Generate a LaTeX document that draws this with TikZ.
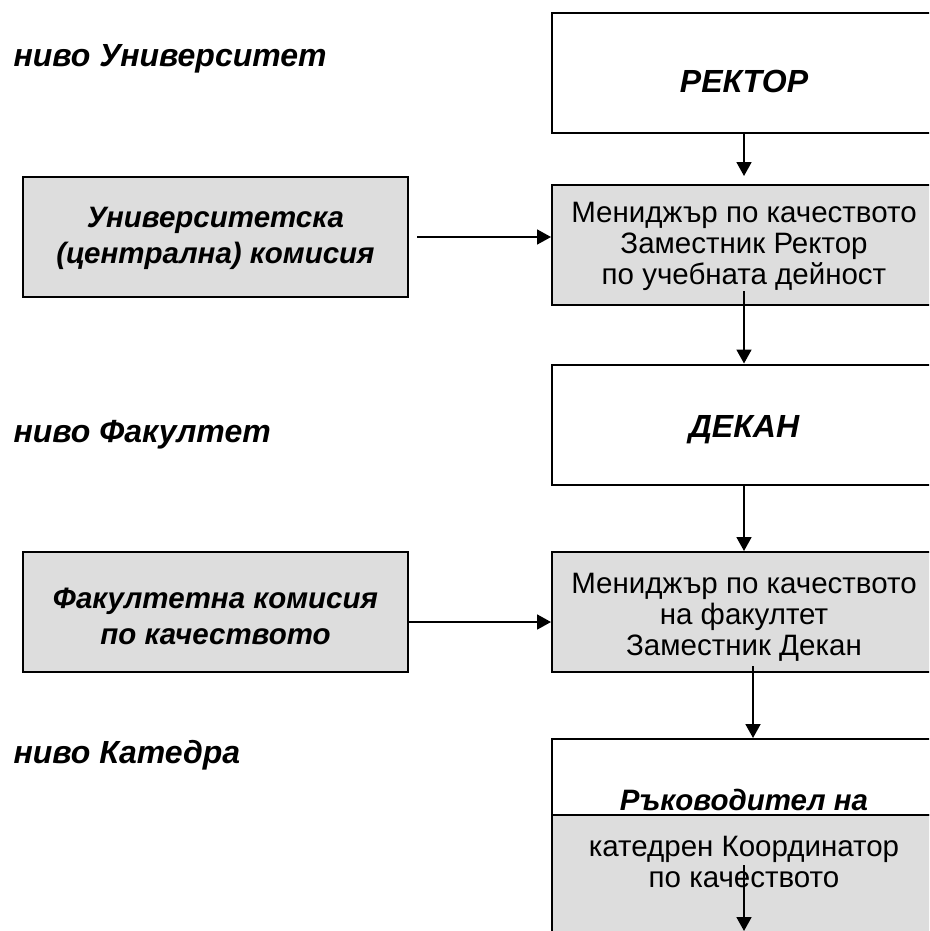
\documentclass[tikz,border=0pt]{standalone}
\usepackage{fontspec}
\setmainfont{Liberation Sans}
\usepackage{tikz}
\usetikzlibrary{positioning, arrows.meta, calc}
\definecolor{boxgray}{RGB}{221,221,221}

\begin{document}
\begin{tikzpicture}[x=1pt, y=-1pt,
  lvl/.style={anchor=base west, font=\fontsize{32}{38}\selectfont\bfseries\itshape},
  whitebox/.style={draw, line width=2pt, fill=white, minimum width=384pt, minimum height=120pt, inner sep=0pt},
  graybox/.style={whitebox, fill=boxgray},
  leftbox/.style={graybox, minimum width=385pt},
  txt/.style={align=center, inner sep=0pt, font=\fontsize{29.5}{31}\selectfont},
  btxt/.style={align=center, inner sep=0pt, font=\fontsize{32}{38}\selectfont\bfseries\itshape},
  ctxt/.style={align=center, inner sep=0pt, font=\fontsize{29.5}{36}\selectfont\bfseries\itshape},
  arr/.style={-{Triangle[length=14pt, width=15pt]}, line width=1.8pt}]
\useasboundingbox (0,0) rectangle (929,931);
\clip (0,0) rectangle (929,931);

% levels
\node[lvl] (lvluni) at (10,67) {ниво Университет};
\node[lvl] (lvlfak) at (10,442) {ниво Факултет};
\node[lvl] (lvlkat) at (10,763) {ниво Катедра};

% university
\node[whitebox] (rektor) at (744,73) {};
\node[btxt] (rektorlbl) at (744,81) {РЕКТОР};
\node[graybox] (mgr1) at (744,245) {};
\node[txt] (mgr1lbl) at (744,246) {Мениджър по качеството\\Заместник Ректор\\по учебната дейност};
\node[leftbox] (ucom) at (215.5,237) {};
\node[ctxt] (ucomlbl) at (215.5,238) {Университетска\\(централна) комисия};

% faculty
\node[whitebox] (dekan) at (744,424.5) {};
\node[btxt] (dekanlbl) at (744,430) {ДЕКАН};
\node[graybox] (mgr2) at (744,612) {};
\node[txt] (mgr2lbl) at (744,617) {Мениджър по качеството\\на факултет\\Заместник Декан};
\node[leftbox] (fcom) at (215.5,612) {};
\node[ctxt] (fcomlbl) at (215.5,616) {Факултетна комисия\\по качеството};

% department
\node[whitebox, minimum height=76pt] (kattop) at (744,777) {};
\node[graybox, minimum height=130pt] (katbot) at (744,880) {};
\node[ctxt, anchor=base] (katlbl) at (744,810) {Ръководител на};
\node[txt] (katcoord) at (744,862) {катедрен Координатор\\по качеството};
\coordinate (katstart) at (744,865);
\coordinate (katend) at (744,931);

% arrows
\draw[arr] (rektor.south) -- ([yshift=8pt]mgr1.north);
\draw[arr] ([yshift=15pt]mgr1.south) -- (dekan.north);
\draw[arr] (dekan.south) -- (mgr2.north);
\draw[arr] ([xshift=9pt, yshift=7pt]mgr2.south) -- ([xshift=9pt]kattop.north);
\draw[arr] (katstart) -- (katend);
\draw[arr] ([xshift=8pt]ucom.east) -- (ucom.east -| mgr1.west);
\draw[arr] ([yshift=-10pt]fcom.east) -- ([yshift=-10pt]mgr2.west);
\end{tikzpicture}
\end{document}
